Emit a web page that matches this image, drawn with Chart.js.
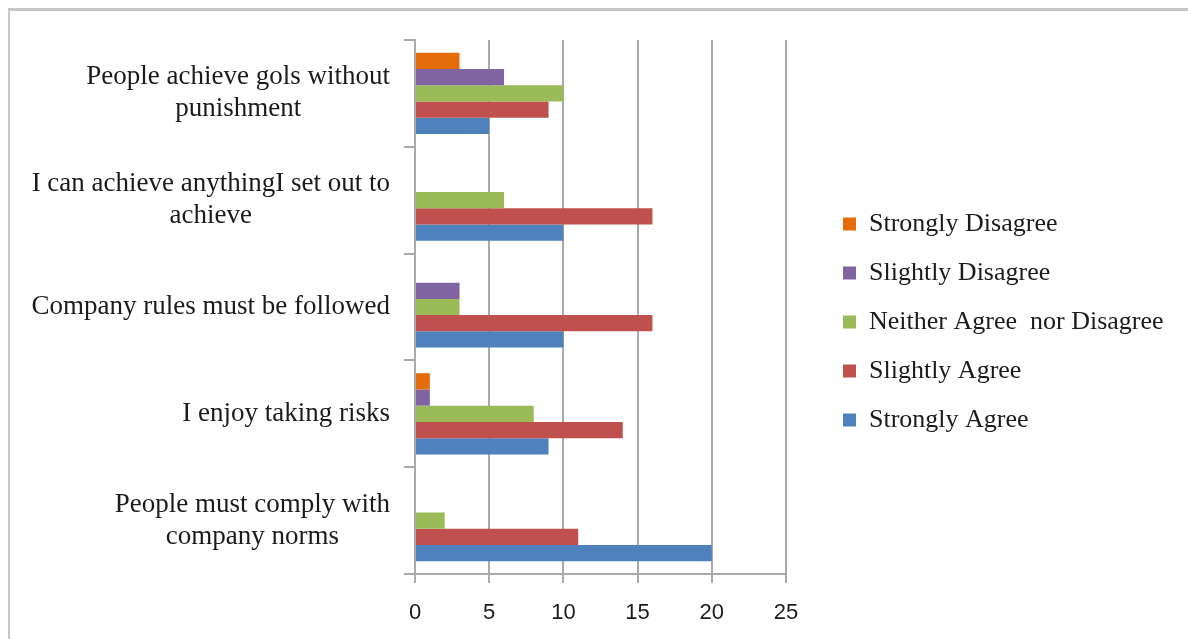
<!DOCTYPE html>
<html>
<head>
<meta charset="utf-8">
<script src="https://cdn.jsdelivr.net/npm/chart.js@4.4.1/dist/chart.umd.min.js"></script>
<style>
  html, body { margin: 0; padding: 0; background: #ffffff; }
  #wrap { width: 1188px; height: 639px; }
</style>
</head>
<body>
<div id="wrap"><canvas id="chart" width="1188" height="639"></canvas></div>
<script>
// Survey statements (one entry per row; each inner array is the wrapped lines)
const categories = [
  ['People achieve gols without', 'punishment'],
  ['I can achieve anythingI set out to', 'achieve'],
  ['Company rules must be followed'],
  ['I enjoy taking risks'],
  ['People must comply with', 'company norms']
];

// Response options, in the order they stack inside each row
const seriesNames = [
  'Strongly Disagree',
  'Slightly Disagree',
  'Neither Agree  nor Disagree',
  'Slightly Agree',
  'Strongly Agree'
];

// Number of respondents per statement
const stronglyDisagree = [3, 0, 0, 1, 0];
const slightlyDisagree = [6, 0, 3, 1, 0];
const neitherAgree     = [10, 6, 3, 8, 2];
const slightlyAgree    = [9, 16, 16, 14, 11];
const stronglyAgree    = [5, 10, 10, 9, 20];

const seriesColors = ['#E46C0A', '#8064A2', '#9BBB59', '#C0504D', '#4F81BD'];

// Value axis
const xMin = 0;
const xMax = 25;
const xStep = 5;

// Layout
const W = 1188;
const PLOT_LEFT = 415;
const PLOT_TOP = 40;
const PLOT_RIGHT = 786;
const X_AXIS_H = 65;
const LABEL_RIGHT = 390;
const LABEL_LINE_H = 32;
const LEGEND_BOX_X = 843;
const LEGEND_FIRST_Y = 211;

const GRID = '#a9a9a9';
const TEXT = '#1b1b1b';
const SERIF = '"Liberation Serif", "Times New Roman", serif';
const SANS = '"Liberation Sans", Arial, sans-serif';

const legendFontSize = 26;
const legendPad = 23;
const legendBox = 13;

// Width the legend will claim, so the plot keeps its right edge
const measureCtx = document.createElement('canvas').getContext('2d');
measureCtx.font = legendFontSize + 'px ' + SERIF;
const legendTextW = Math.max(...seriesNames.map(s => measureCtx.measureText(s).width));
const legendW = legendPad + legendBox + legendFontSize / 2 + legendTextW + 10;
const rightPad = Math.max(0, W - PLOT_RIGHT - legendW);

const seriesValues = [stronglyDisagree, slightlyDisagree, neitherAgree, slightlyAgree, stronglyAgree];

const datasets = seriesNames.map((name, i) => ({
  label: name,
  data: seriesValues[i],
  backgroundColor: seriesColors[i],
  borderWidth: 0,
  categoryPercentage: 0.76,
  barPercentage: 1.0
}));

// Outer frame lines along the top and left
const framePlugin = {
  id: 'frame',
  beforeDraw(chart) {
    const ctx = chart.ctx;
    ctx.save();
    ctx.fillStyle = '#ffffff';
    ctx.fillRect(0, 0, chart.width, chart.height);
    ctx.strokeStyle = '#c6c6c6';
    ctx.lineWidth = 3;
    ctx.beginPath();
    ctx.moveTo(8, 9.5);
    ctx.lineTo(chart.width, 9.5);
    ctx.stroke();
    ctx.lineWidth = 2;
    ctx.beginPath();
    ctx.moveTo(9, 8);
    ctx.lineTo(9, chart.height);
    ctx.stroke();
    ctx.restore();
  }
};

// Statement labels: block right-aligned to the axis, lines centred within the block
const categoryLabelPlugin = {
  id: 'categoryLabels',
  afterDraw(chart) {
    const yScale = chart.scales.y;
    const ctx = chart.ctx;
    ctx.save();
    ctx.font = '27px ' + SERIF;
    ctx.fillStyle = TEXT;
    ctx.textAlign = 'center';
    ctx.textBaseline = 'middle';
    categories.forEach((lines, i) => {
      const cy = yScale.getPixelForTick(i);
      const blockW = Math.max(...lines.map(l => ctx.measureText(l).width));
      const cx = LABEL_RIGHT - blockW / 2;
      lines.forEach((line, j) => {
        ctx.fillText(line, cx, cy + (j - (lines.length - 1) / 2) * LABEL_LINE_H);
      });
    });
    ctx.restore();
  }
};

// Place the legend block to the right of the plot
const legendPlacePlugin = {
  id: 'legendPlace',
  afterLayout(chart) {
    const lg = chart.legend;
    if (!lg) return;
    const w = lg.width;
    const colH = 5 * (legendFontSize + legendPad);
    lg.left = LEGEND_BOX_X - legendPad;
    lg.right = lg.left + w;
    lg.top = LEGEND_FIRST_Y - legendPad;
    lg.bottom = lg.top + colH + legendPad;
  }
};

new Chart(document.getElementById('chart'), {
  type: 'bar',
  data: {
    labels: categories.map(l => l.join(' ')),
    datasets: datasets
  },
  options: {
    indexAxis: 'y',
    responsive: false,
    animation: false,
    layout: {
      padding: { top: PLOT_TOP, left: 0, right: rightPad, bottom: 0 }
    },
    plugins: {
      legend: {
        position: 'right',
        fullSize: false,
        align: 'center',
        maxWidth: 600,
        labels: {
          boxWidth: legendBox,
          boxHeight: legendBox,
          padding: legendPad,
          color: TEXT,
          font: { family: SERIF, size: legendFontSize }
        }
      },
      tooltip: { enabled: false },
      title: { display: false }
    },
    scales: {
      x: {
        type: 'linear',
        position: 'bottom',
        min: xMin,
        max: xMax,
        ticks: {
          stepSize: xStep,
          color: TEXT,
          padding: 17,
          font: { family: SANS, size: 22 }
        },
        grid: {
          color: GRID,
          lineWidth: 2,
          drawTicks: true,
          tickLength: 9,
          tickColor: GRID
        },
        border: { display: true, color: GRID, width: 2 },
        afterFit(scale) { scale.height = X_AXIS_H; }
      },
      y: {
        type: 'category',
        position: 'left',
        offset: true,
        ticks: { display: false },
        grid: {
          offset: true,
          drawOnChartArea: false,
          drawTicks: true,
          tickLength: 11,
          color: GRID,
          tickColor: GRID,
          lineWidth: 2
        },
        border: { display: true, color: GRID, width: 2 },
        afterFit(scale) { scale.width = PLOT_LEFT; }
      }
    }
  },
  plugins: [framePlugin, legendPlacePlugin, categoryLabelPlugin]
});
</script>
</body>
</html>
